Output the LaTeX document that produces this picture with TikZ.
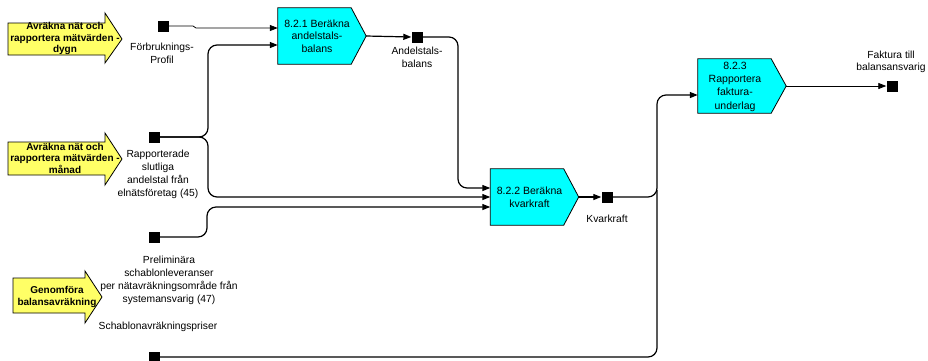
\documentclass[tikz,border=0pt]{standalone}
\usepackage{fontspec}
\setmainfont{Liberation Sans}
\usetikzlibrary{arrows.meta,backgrounds}
\definecolor{feedyellow}{RGB}{255,255,102}
\definecolor{proccyan}{RGB}{0,255,255}

\begin{document}
\begin{tikzpicture}[x=1pt,y=-1pt,
 store/.style={fill=black,minimum size=11pt,inner sep=0pt},
 lbl/.style={align=center,inner sep=0pt,font=\fontsize{10.3}{12.5}\selectfont},
 proc/.style={minimum width=73pt,minimum height=56pt,inner sep=0pt,align=center,font=\fontsize{10.5}{12.5}\selectfont},
 procshape/.style={draw=black,fill=proccyan,line width=0.8pt},
 feeder/.style={draw=black,fill=feedyellow,line width=0.8pt},
 feedtext/.style={align=center,inner sep=0pt,font=\fontsize{10}{11.5}\selectfont\bfseries},
 flow/.style={-{Triangle[length=8pt,width=6pt]},line width=1.2pt,rounded corners=9pt},
 link/.style={line width=1.2pt,rounded corners=9pt}]
\useasboundingbox (0,0) rectangle (928,360);
% feeding processes
\draw[feeder] (8,23) -- (105,23) -- (105,13) -- (122,39) -- (105,63) -- (105,55) -- (8,55) -- cycle;
\draw[feeder] (8,142) -- (105,142) -- (105,133) -- (122,159) -- (105,185) -- (105,175) -- (8,175) -- cycle;
\draw[feeder] (13,278) -- (85,278) -- (85,271) -- (102,297) -- (85,323) -- (85,313) -- (13,313) -- cycle;
\node[feedtext] (dygn) at (65,38.5) {Avräkna nät och\\rapportera mätvärden -\\dygn};
\node[feedtext] (manad) at (65,158) {Avräkna nät och\\rapportera mätvärden -\\månad};
\node[feedtext] (balavr) at (57,297) {Genomföra\\balansavräkning};
% processes
\node[proc] (b821) at (314.5,36) {};
\node[proc] (b822) at (527,197) {};
\node[proc,minimum height=54pt] (b823) at (734.5,86) {};
\foreach \b in {b821,b822,b823}
  \coordinate (\b-tip) at ([xshift=15pt]\b.east);
\draw[procshape] (b821.north west) -- (b821.north east) -- (b821-tip) -- (b821.south east) -- (b821.south west) -- cycle;
\draw[procshape] (b822.north west) -- (b822.north east) -- (b822-tip) -- (b822.south east) -- (b822.south west) -- cycle;
\draw[procshape] (b823.north west) -- (b823.north east) -- (b823-tip) -- (b823.south east) -- (b823.south west) -- cycle;
\node[proc,minimum size=0pt] (b821txt) at (317,36) {8.2.1 Beräkna\\andelstals-\\balans};
\node[proc,minimum size=0pt] (b822txt) at (529.5,197) {8.2.2 Beräkna\\kvarkraft};
\node[proc,minimum size=0pt,font=\fontsize{10.5}{13.3}\selectfont] (b823txt) at (735,86.5) {8.2.3\\Rapportera\\faktura-\\underlag};
% information objects
\node[store] (fb) at (163,26) {};
\node[store] (rap) at (154,137) {};
\node[store] (pre) at (154,237) {};
\node[store] (sch) at (154,357) {};
\node[store] (and) at (417,37) {};
\node[store] (kva) at (607,197) {};
\node[store] (fak) at (892,86) {};
\node[lbl] (fbtxt) at (162,53.5) {Förbruknings-\\Profil};
\node[lbl,font=\fontsize{10.3}{13}\selectfont] (raptxt) at (158,174.5) {Rapporterade\\slutliga\\andelstal från\\elnätsföretag (45)};
\node[lbl,font=\fontsize{10.3}{13}\selectfont] (pretxt) at (169,280.5) {Preliminära\\schablonleveranser\\per nätavräkningsområde från\\systemansvarig (47)};
\node[lbl] (schtxt) at (158,327) {Schablonavräkningspriser};
\node[lbl] (andtxt) at (417,57.5) {Andelstals-\\balans};
\node[lbl] (kvatxt) at (607,219) {Kvarkraft};
\node[lbl] (faktxt) at (891,62) {Faktura till\\balansansvarig};
% flows
\draw[flow,line width=0.8pt,rounded corners=0pt] (fb.east) -- (193,26) -- (196,28) -- (b821.west |- 0,28);
\draw[flow] (rap.east) -- (208,137) -- (208,45) -- (b821.west |- 0,45);
\draw[flow] (rap.east) -- (208,137) -- (208,197) -- (b822.west |- 0,197);
\draw[flow] (pre.east) -- (207,237) -- (207,207) -- (b822.west |- 0,207);
\draw[flow] (b821-tip) -- (and.west);
\draw[flow] (and.east) -- (458,37) -- (458,188) -- (b822.west |- 0,188);
\draw[flow] (b822-tip) -- (kva.west);
\draw[flow] (kva.east) -- (657,197) -- (657,95) -- (b823.west |- 0,95);
\draw[link] (sch.east) -- (657,357) -- (657,190);
\draw[flow,line width=0.8pt] (b823-tip) -- (fak.west);
\end{tikzpicture}
\end{document}
